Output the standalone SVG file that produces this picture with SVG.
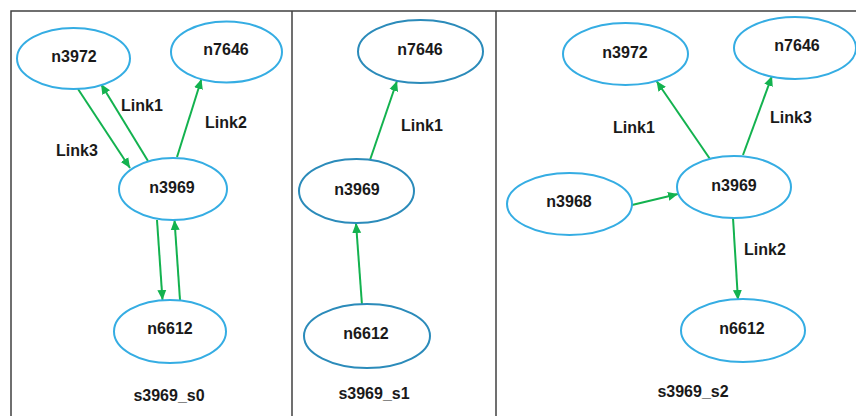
<svg xmlns="http://www.w3.org/2000/svg" width="856" height="416" viewBox="0 0 856 416">
  <defs>
    <marker id="arrow" viewBox="0 0 10 10" refX="10" refY="5" markerWidth="10" markerHeight="10" markerUnits="userSpaceOnUse" orient="auto">
      <path d="M0,0.5 L10,5 L0,9.5 Z" fill="#13b24f"/>
    </marker>
    <style>
      .frame { fill: none; stroke: #404040; stroke-width: 1.5; }
      .node { fill: #ffffff; stroke: #35ade3; stroke-width: 2; }
      .node.dark { stroke: #2b8bba; }
      .edge { fill: none; stroke: #13b24f; stroke-width: 2; marker-end: url(#arrow); }
      text { font-family: "Liberation Sans", Arial, sans-serif; font-weight: bold; font-size: 16px; fill: #1a1a1a; text-anchor: middle; }
    </style>
  </defs>
  <rect width="856" height="416" fill="#ffffff"/>

  <!-- panel frame -->
  <g id="frame">
    <polyline class="frame" points="11,416 11,11 856,11"/>
    <line class="frame" x1="292" y1="11" x2="292" y2="416"/>
    <line class="frame" x1="496" y1="11" x2="496" y2="416"/>
  </g>

  <!-- connectors -->
  <g id="connectors">
    <!-- s0 -->
    <line class="edge" x1="78" y1="89" x2="130" y2="168"/>
    <line class="edge" x1="148" y1="161" x2="101" y2="84"/>
    <line class="edge" x1="177" y1="157" x2="201.5" y2="79"/>
    <line class="edge" x1="157" y1="220" x2="162.5" y2="300"/>
    <line class="edge" x1="180" y1="300" x2="174.5" y2="220"/>
    <!-- s1 -->
    <line class="edge" x1="370" y1="160" x2="397" y2="81"/>
    <line class="edge" x1="362" y1="305" x2="356" y2="223"/>
    <!-- s2 -->
    <line class="edge" x1="710" y1="159" x2="656.5" y2="81"/>
    <line class="edge" x1="743" y1="155" x2="772" y2="76"/>
    <line class="edge" x1="632" y1="205" x2="678" y2="194"/>
    <line class="edge" x1="733" y1="218" x2="738" y2="300"/>
  </g>

  <!-- connector labels -->
  <g id="edge-labels">
    <text x="142" y="111">Link1</text>
    <text x="226" y="128">Link2</text>
    <text x="77" y="156">Link3</text>
    <text x="422" y="131">Link1</text>
    <text x="634" y="133">Link1</text>
    <text x="791" y="123">Link3</text>
    <text x="765" y="255">Link2</text>
  </g>

  <!-- s3969_s0 -->
  <g id="s0-n3972"><ellipse class="node" cx="73.5" cy="58.5" rx="56.5" ry="30.5"/><text x="74" y="62">n3972</text></g>
  <g id="s0-n7646"><ellipse class="node" cx="226.5" cy="52" rx="55.5" ry="30.5"/><text x="226" y="55">n7646</text></g>
  <g id="s0-n3969"><ellipse class="node" cx="173" cy="189" rx="54" ry="31"/><text x="172" y="193">n3969</text></g>
  <g id="s0-n6612"><ellipse class="node" cx="170" cy="331.5" rx="56" ry="31.5"/><text x="170" y="334">n6612</text></g>
  <text id="s0-title" x="169" y="401">s3969_s0</text>

  <!-- s3969_s1 -->
  <g id="s1-n7646"><ellipse class="node dark" cx="420.5" cy="51.5" rx="62.5" ry="31.5"/><text x="420" y="55">n7646</text></g>
  <g id="s1-n3969"><ellipse class="node dark" cx="356.5" cy="191" rx="57.5" ry="32"/><text x="357" y="195">n3969</text></g>
  <g id="s1-n6612"><ellipse class="node dark" cx="367" cy="336" rx="63" ry="32"/><text x="366" y="339">n6612</text></g>
  <text id="s1-title" x="374" y="399">s3969_s1</text>

  <!-- s3969_s2 -->
  <g id="s2-n3972"><ellipse class="node" cx="625.5" cy="54" rx="62.5" ry="31"/><text x="625" y="58">n3972</text></g>
  <g id="s2-n7646"><ellipse class="node" cx="795" cy="48" rx="61" ry="31"/><text x="797" y="51">n7646</text></g>
  <g id="s2-n3968"><ellipse class="node" cx="569.5" cy="204" rx="62.5" ry="31"/><text x="569" y="207">n3968</text></g>
  <g id="s2-n3969"><ellipse class="node" cx="734" cy="187" rx="57" ry="31"/><text x="734" y="191">n3969</text></g>
  <g id="s2-n6612"><ellipse class="node" cx="743" cy="330.5" rx="62" ry="31.5"/><text x="742" y="334">n6612</text></g>
  <text id="s2-title" x="693" y="397">s3969_s2</text>
</svg>
